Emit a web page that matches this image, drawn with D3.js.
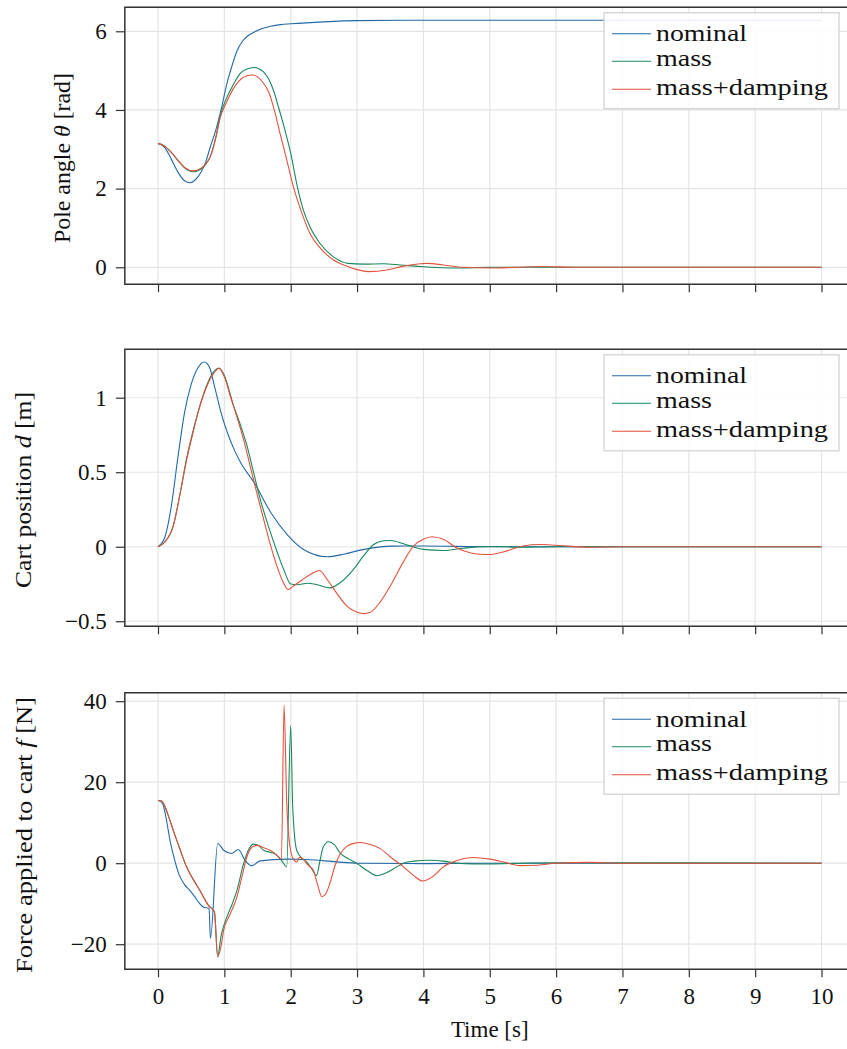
<!DOCTYPE html>
<html>
<head>
<meta charset="utf-8">
<script src="https://cdn.jsdelivr.net/npm/d3@7"></script>
<style>
  body { margin: 0; background: #fff; }
  text { font-family: "Liberation Serif", "Times New Roman", serif; fill: #111; }
</style>
</head>
<body>
<script>
// tijd-as en ticks
const timeTicks = [0, 1, 2, 3, 4, 5, 6, 7, 8, 9, 10];
const thetaTicks = [0, 2, 4, 6];
const posTicks = [-0.5, 0, 0.5, 1];
const forceTicks = [-20, 0, 20, 40];

const seriesNames = ["nominal", "mass", "mass+damping"];
const seriesColors = ["#2369a6", "#17885a", "#e2513c"];

// pole angle theta [rad], [t, waarde]
const thetaNominal = [[0,3.15],[0.1,3.05],[0.2,2.75],[0.3,2.42],[0.4,2.2],[0.48,2.15],[0.56,2.22],[0.65,2.42],[0.72,2.68],[0.79,3.07],[0.87,3.48],[0.95,4.0],[1.04,4.68],[1.12,5.15],[1.19,5.5],[1.27,5.74],[1.35,5.88],[1.44,5.97],[1.55,6.06],[1.7,6.13],[1.85,6.17],[2.0,6.19],[2.5,6.24],[3.0,6.27],[4,6.28],[10,6.28]];
const thetaMass = [[0,3.15],[0.1,3.08],[0.2,2.92],[0.3,2.72],[0.4,2.53],[0.53,2.43],[0.65,2.5],[0.72,2.62],[0.79,2.82],[0.87,3.3],[0.94,3.87],[1.02,4.25],[1.09,4.5],[1.17,4.75],[1.24,4.93],[1.34,5.04],[1.45,5.08],[1.52,5.05],[1.59,4.97],[1.67,4.78],[1.74,4.5],[1.82,4.05],[1.9,3.57],[2.0,2.9],[2.1,2.05],[2.19,1.46],[2.29,1.03],[2.44,0.61],[2.64,0.27],[2.86,0.1],[3.1,0.08],[3.4,0.09],[3.65,0.06],[3.95,0.02],[4.5,-0.02],[5,0],[10,0]];
const thetaMassDamping = [[0,3.15],[0.1,3.08],[0.2,2.92],[0.3,2.72],[0.4,2.54],[0.53,2.45],[0.65,2.52],[0.72,2.63],[0.79,2.82],[0.87,3.28],[0.94,3.82],[1.02,4.15],[1.09,4.4],[1.17,4.63],[1.26,4.8],[1.34,4.87],[1.42,4.89],[1.5,4.84],[1.59,4.68],[1.67,4.45],[1.74,4.08],[1.84,3.4],[1.94,2.73],[2.04,2.05],[2.17,1.37],[2.29,0.86],[2.44,0.5],[2.64,0.19],[2.86,0.02],[3.0,-0.06],[3.17,-0.11],[3.45,-0.07],[3.7,0.03],[3.95,0.09],[4.05,0.1],[4.3,0.06],[4.6,0.0],[5.0,-0.02],[5.4,0.0],[5.8,0.02],[6.3,0.0],[10,0]];

// cart position d [m]
const posNominal = [[0,0],[0.1,0.06],[0.2,0.27],[0.3,0.6],[0.4,0.9],[0.5,1.09],[0.6,1.2],[0.7,1.24],[0.78,1.2],[0.85,1.08],[0.95,0.9],[1.05,0.76],[1.15,0.65],[1.25,0.56],[1.45,0.43],[1.7,0.23],[1.95,0.08],[2.2,-0.02],[2.55,-0.067],[2.8,-0.05],[3.05,-0.023],[3.55,0.004],[4.0,0.005],[5,0],[10,0]];
const posMass = [[0,0],[0.1,0.03],[0.23,0.14],[0.33,0.35],[0.43,0.59],[0.53,0.78],[0.63,0.945],[0.75,1.1],[0.85,1.18],[0.92,1.2],[1.0,1.15],[1.14,0.945],[1.24,0.82],[1.34,0.68],[1.44,0.5],[1.54,0.32],[1.67,0.13],[1.8,-0.04],[1.9,-0.16],[2.0,-0.25],[2.1,-0.255],[2.25,-0.245],[2.4,-0.255],[2.59,-0.276],[2.75,-0.24],[2.95,-0.15],[3.1,-0.06],[3.25,0.015],[3.4,0.04],[3.51,0.042],[3.7,0.02],[4.0,-0.018],[4.3,-0.025],[4.6,-0.01],[5.0,0.002],[5.5,-0.003],[6,0],[10,0]];
const posMassDamping = [[0,0],[0.1,0.03],[0.23,0.14],[0.33,0.35],[0.43,0.58],[0.53,0.77],[0.63,0.94],[0.75,1.09],[0.85,1.17],[0.92,1.197],[1.0,1.14],[1.09,1.01],[1.19,0.87],[1.29,0.72],[1.39,0.54],[1.49,0.36],[1.6,0.17],[1.7,0.004],[1.8,-0.14],[1.9,-0.25],[1.96,-0.287],[2.05,-0.26],[2.15,-0.23],[2.3,-0.185],[2.43,-0.16],[2.55,-0.22],[2.69,-0.31],[2.85,-0.4],[3.0,-0.44],[3.1,-0.449],[3.2,-0.44],[3.35,-0.37],[3.5,-0.265],[3.7,-0.1],[3.85,0.004],[4.0,0.05],[4.13,0.067],[4.3,0.05],[4.5,-0.007],[4.7,-0.04],[4.86,-0.05],[5.0,-0.052],[5.2,-0.035],[5.5,0.005],[5.76,0.015],[6.0,0.01],[6.5,-0.003],[7,0],[10,0]];

// force f [N]
const forceNominal = [[0,15.5],[0.05,15.2],[0.1,13],[0.14,9.5],[0.18,5.7],[0.24,1.5],[0.31,-2.5],[0.4,-5.3],[0.48,-6.7],[0.55,-8.2],[0.62,-9.8],[0.68,-10.8],[0.77,-11.2],[0.79,-18.6],[0.9,4.86],[0.99,3.2],[1.11,2.4],[1.21,3.4],[1.31,0.74],[1.41,-0.66],[1.54,0.57],[1.94,1.0],[2.24,0.9],[2.69,0.33],[3,0],[4,-0.1],[5,0],[10,0]];
const forceMass = [[0,15.5],[0.06,15.3],[0.1,14.2],[0.15,12],[0.23,8.1],[0.33,3.5],[0.43,-0.9],[0.53,-4],[0.63,-6.7],[0.7,-8.8],[0.76,-10.4],[0.85,-12.0],[0.9,-23.1],[0.95,-18],[1.04,-13.2],[1.12,-10],[1.19,-6.7],[1.29,-0.1],[1.37,3.5],[1.44,4.7],[1.52,4.3],[1.59,3.2],[1.69,2.7],[1.79,2.0],[1.87,0.5],[1.94,-0.9],[2.0,34],[2.03,14],[2.09,3.2],[2.17,1.2],[2.24,0.3],[2.32,-1.5],[2.39,-3.0],[2.44,0.5],[2.49,4.0],[2.57,5.3],[2.66,4.5],[2.75,2.4],[2.88,1.0],[3.0,-0.1],[3.15,-1.8],[3.3,-3.1],[3.45,-2.3],[3.6,-0.9],[3.7,0],[3.85,0.5],[4.1,0.74],[4.3,0.5],[4.5,0],[4.75,-0.2],[5.0,-0.2],[5.5,0],[6,0.1],[10,0]];
const forceMassDamping = [[0,15.5],[0.06,15.3],[0.1,14.2],[0.15,12],[0.23,8.1],[0.33,3.5],[0.43,-0.9],[0.53,-4],[0.63,-6.7],[0.7,-8.8],[0.76,-10.4],[0.85,-12.0],[0.9,-23.1],[0.95,-20.5],[0.99,-16.5],[1.09,-12.5],[1.19,-8.3],[1.27,-3],[1.34,1.6],[1.42,4.0],[1.49,4.4],[1.59,3.8],[1.69,3.2],[1.77,2.3],[1.86,1.0],[1.9,39],[1.94,15],[1.99,4.0],[2.04,1.0],[2.09,0.3],[2.14,1.5],[2.19,1.0],[2.26,-0.5],[2.34,-1.7],[2.4,-5],[2.47,-8.3],[2.53,-7.5],[2.59,-5.0],[2.67,-0.5],[2.75,2.4],[2.85,4.2],[2.95,4.9],[3.05,5.1],[3.2,4.6],[3.35,3.6],[3.5,1.6],[3.7,-0.9],[3.85,-3],[3.99,-4.4],[4.15,-3.2],[4.3,-0.9],[4.5,0.6],[4.76,1.4],[5.0,1.0],[5.21,0.3],[5.45,-0.6],[5.7,-0.5],[6.0,0],[6.5,0.2],[7,0],[10,0]];

const W = 847, H = 1049;
const svg = d3.select("body").append("svg").attr("width", W).attr("height", H);

const x = d3.scaleLinear().domain([0, 10]).range([158, 821.5]);
const xLeft = x(-0.5), xRight = x(10.5);

const fmt = d => String(d).replace("-", "\u2212");

const panels = [
  { top: 7.3, bottom: 284.2, domain: [-0.43, 6.61], ticks: thetaTicks,
    series: [thetaNominal, thetaMass, thetaMassDamping],
    label: ["Pole angle ", "\u03b8", " [rad]"], labelX: 70, labelY: 158, labelLen: 170 },
  { top: 349.3, bottom: 626.3, domain: [-0.534, 1.325], ticks: posTicks,
    series: [posNominal, posMass, posMassDamping],
    label: ["Cart position ", "d", " [m]"], labelX: 31, labelY: 490, labelLen: 196 },
  { top: 692.7, bottom: 969.3, domain: [-26.2, 42.1], ticks: forceTicks,
    series: [forceNominal, forceMass, forceMassDamping],
    label: ["Force applied to cart ", "f", " [N]"], labelX: 32, labelY: 835, labelLen: 276, showTime: true }
];

// breedte van de legendateksten (Palatino is breder dan Times)
const legendLen = [91, 56, 172];

panels.forEach((p, i) => {
  const y = d3.scaleLinear().domain(p.domain).range([p.bottom, p.top]);
  const g = svg.append("g");

  // grid
  g.append("g").selectAll("line").data(timeTicks).join("line")
    .attr("x1", d => x(d)).attr("x2", d => x(d))
    .attr("y1", p.top).attr("y2", p.bottom)
    .attr("stroke", "#e4e4e4").attr("stroke-width", 1.2);
  g.append("g").selectAll("line").data(p.ticks).join("line")
    .attr("x1", xLeft).attr("x2", xRight)
    .attr("y1", d => y(d)).attr("y2", d => y(d))
    .attr("stroke", "#e4e4e4").attr("stroke-width", 1.2);

  // lijnen
  svg.append("clipPath").attr("id", "clip" + i)
    .append("rect").attr("x", xLeft).attr("y", p.top)
    .attr("width", xRight - xLeft).attr("height", p.bottom - p.top);

  const line = d3.line()
    .x(d => x(d[0]))
    .y(d => y(d[1]))
    .curve(d3.curveMonotoneX);

  g.append("g").attr("clip-path", `url(#clip${i})`)
    .selectAll("path").data(p.series).join("path")
    .attr("d", line)
    .attr("fill", "none")
    .attr("stroke", (d, k) => seriesColors[k])
    .attr("stroke-width", 1.1);

  // legenda
  const lg = g.append("g").attr("transform", `translate(604,${p.top + 5.5})`);
  lg.append("rect").attr("width", 235).attr("height", 96)
    .attr("fill", "#fff").attr("fill-opacity", 0.88)
    .attr("stroke", "#cfcfcf").attr("stroke-width", 1.2);
  const lineOff = [21, 48.5, 76.5];
  const textOff = [28.5, 53, 82];
  seriesNames.forEach((name, k) => {
    lg.append("line").attr("x1", 8).attr("x2", 47)
      .attr("y1", lineOff[k]).attr("y2", lineOff[k])
      .attr("stroke", seriesColors[k]).attr("stroke-width", 1.1);
    lg.append("text").attr("x", 52).attr("y", textOff[k])
      .attr("font-size", 24)
      .attr("textLength", legendLen[k]).attr("lengthAdjust", "spacingAndGlyphs")
      .text(name);
  });

  // assen
  const yAxis = g.append("g").attr("transform", `translate(${xLeft},0)`)
    .call(d3.axisLeft(y).tickValues(p.ticks).tickSize(9).tickPadding(9).tickFormat(fmt));
  const xAxis = g.append("g").attr("transform", `translate(0,${p.bottom})`)
    .call(d3.axisBottom(x).tickValues(timeTicks).tickSize(8).tickPadding(10)
      .tickFormat(p.showTime ? d3.format("d") : ""));
  [yAxis, xAxis].forEach(a => {
    a.select(".domain").remove();
    a.selectAll(".tick line").attr("stroke", "#333").attr("stroke-width", 1.2);
    a.selectAll(".tick text").attr("font-size", 23).attr("fill", "#111")
      .style("font-family", '"Liberation Serif", serif');
  });

  // kader: links, boven, onder
  g.append("path")
    .attr("d", `M${xRight},${p.top}H${xLeft}V${p.bottom}H${xRight}`)
    .attr("fill", "none").attr("stroke", "#333").attr("stroke-width", 1.5);

  // y label
  const lab = g.append("text")
    .attr("transform", `translate(${p.labelX},${p.labelY}) rotate(-90)`)
    .attr("text-anchor", "middle").attr("font-size", 23.5)
    .attr("textLength", p.labelLen).attr("lengthAdjust", "spacingAndGlyphs");
  lab.append("tspan").text(p.label[0]);
  lab.append("tspan").attr("font-style", "italic").text(p.label[1]);
  lab.append("tspan").text(p.label[2]);
});

svg.append("text").attr("x", x(5)).attr("y", 1037)
  .attr("text-anchor", "middle").attr("font-size", 23).text("Time [s]");
</script>
</body>
</html>
